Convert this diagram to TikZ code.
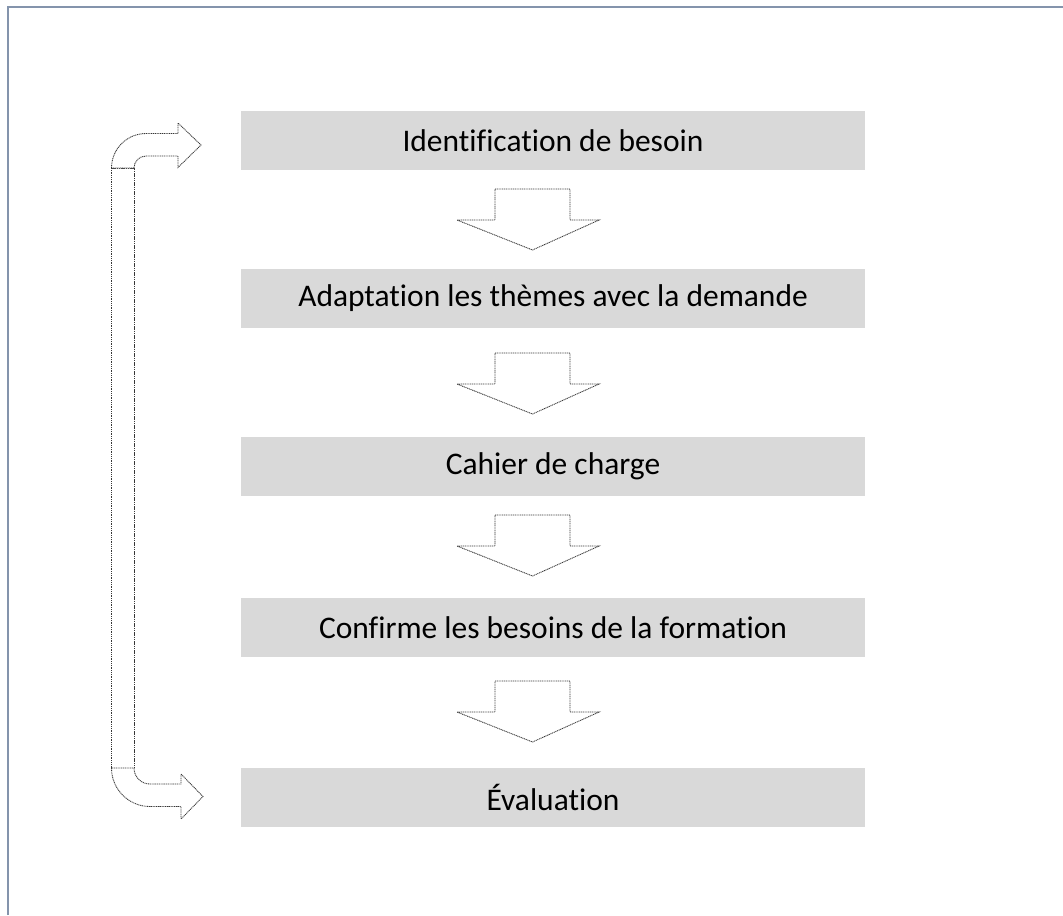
\documentclass[tikz,border=0pt]{standalone}
\usepackage{fontspec}
\setmainfont{Carlito}[Ligatures={NoCommon}]
\definecolor{framecol}{RGB}{132,148,172}
\definecolor{boxfill}{RGB}{217,217,217}
\definecolor{dotcol}{RGB}{55,55,55}
\tikzset{
  stepbox/.style={fill=boxfill, draw=none, minimum width=468pt, minimum height=44.25pt,
    inner sep=0pt, font=\fontsize{23.6}{28}\selectfont},
  blockarrow/.style={draw=dotcol, line width=0.65pt, dash pattern=on 0.8pt off 0.55pt,
    line join=miter, fill=white},
  downarrow/.pic={
    \draw[blockarrow] (-37.5,0) -- (37.5,0) -- (37.5,31) -- (66.5,31) -- (0,61)
      -- (-75.5,31) -- (-37.5,31) -- cycle;
  }
}
\begin{document}
\begin{tikzpicture}[x=0.75pt,y=-0.75pt]
\useasboundingbox (0,0) rectangle (1063,915);
% frame lines along the top and left edges
\draw[framecol, line width=1.5pt] (8,915) -- (8,7) -- (1063,7);

% process steps
\node[stepbox] (b1) at (553,140.5) {Identification de besoin};
\node[stepbox] (b2) at (553,298.5) {Adaptation les thèmes avec la demande};
\node[stepbox] (b3) at (553,466.5) {Cahier de charge};
\node[stepbox] (b4) at (553,627.5) {Confirme les besoins de la formation};
\node[stepbox] (b5) at (553,797.5) {Évaluation};

% block arrows between the steps
\coordinate (a1) at (532.5,189);
\coordinate (a2) at (532.5,353);
\coordinate (a3) at (532.5,515);
\coordinate (a4) at (532.5,681);
\foreach \a in {a1,a2,a3,a4} \pic at (\a) {downarrow};

% feedback loop on the left: shaft and two bent heads
\coordinate (loopT) at (111.5,168);
\coordinate (loopB) at (134,768);
\draw[blockarrow] (loopT) rectangle (loopB);
\draw[blockarrow] (111.5,168) arc[start angle=180, end angle=270, radius=34.5]
  -- (178,133.5) -- (178,123) -- (201,145) -- (178,167.5) -- (178,156)
  -- (146,156) arc[start angle=270, end angle=180, radius=12] -- cycle;
\draw[blockarrow] (111.5,768) arc[start angle=180, end angle=90, radius=38.5]
  -- (181,806.5) -- (181,819) -- (203,796.5) -- (181,774) -- (181,784)
  -- (150,784) arc[start angle=90, end angle=180, radius=16] -- cycle;
\end{tikzpicture}
\end{document}
